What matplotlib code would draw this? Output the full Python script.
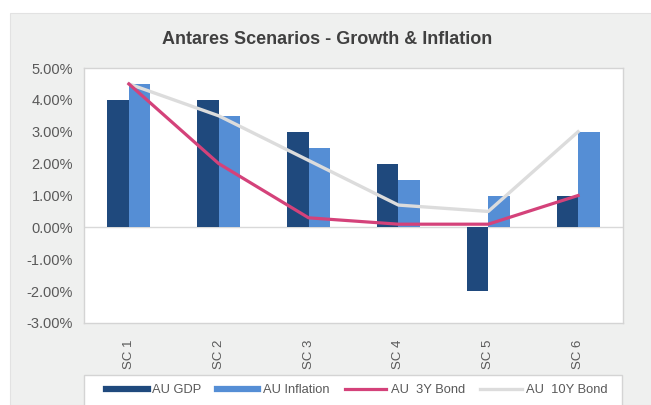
import matplotlib
matplotlib.use("Agg")
import matplotlib.pyplot as plt
import numpy as np
from matplotlib.patches import Rectangle
from matplotlib.lines import Line2D
from matplotlib.ticker import FuncFormatter

categories = ["SC 1", "SC 2", "SC 3", "SC 4", "SC 5", "SC 6"]
au_gdp = [4.0, 4.0, 3.0, 2.0, -2.0, 1.0]
au_inflation = [4.5, 3.5, 2.5, 1.5, 1.0, 3.0]
au_3y_bond = [4.5, 2.0, 0.3, 0.1, 0.1, 1.0]
au_10y_bond = [4.5, 3.5, 2.1, 0.7, 0.5, 3.0]
series_names = ["AU GDP", "AU Inflation", "AU  3Y Bond", "AU  10Y Bond"]
title = "Antares Scenarios - Growth & Inflation"

c_gdp = "#1f497d"
c_inf = "#558ed5"
c_3y = "#d4427a"
c_10y = "#dcdcdc"
c_bg = "#eff0ef"
c_txt = "#595959"
c_border = "#d4d4d4"

FONT = ["Liberation Sans", "DejaVu Sans"]
plt.rcParams["font.family"] = FONT

W, H = 651, 405
fig = plt.figure(figsize=(W / 100, H / 100), dpi=100, facecolor="white")

def px(x0, y0, x1, y1):
    return [x0 / W, 1 - y1 / H, (x1 - x0) / W, (y1 - y0) / H]

# outer grey chart area
fig.patches.append(Rectangle((10 / W, 0), 1, 1 - 13 / H, transform=fig.transFigure,
                             facecolor=c_bg, edgecolor="#e2e2e2", lw=0.8, zorder=-10))

ax = fig.add_axes(px(84, 68, 623, 323))
ax.set_zorder(1)
ax.set_facecolor("white")
x = np.arange(len(categories))
bw = 0.24
ax.bar(x - bw / 2, au_gdp, width=bw, color=c_gdp, zorder=3)
ax.bar(x + bw / 2, au_inflation, width=bw, color=c_inf, zorder=3)
ax.plot(x, au_10y_bond, color=c_10y, lw=2.4, zorder=4, solid_joinstyle="round")
ax.plot(x, au_3y_bond, color=c_3y, lw=2.3, zorder=5, solid_joinstyle="round")
ax.axhline(0, color="#d9d9d9", lw=1.0, zorder=2)

ax.set_xlim(-0.5, len(categories) - 0.5)
ax.set_ylim(-3, 5)
ax.set_yticks(np.arange(-3, 6, 1))
ax.yaxis.set_major_formatter(FuncFormatter(lambda v, p: f"{v:.2f}%"))
ax.set_xticks(x)
ax.set_xticklabels(categories, rotation=90)
ax.tick_params(axis="both", length=0, colors=c_txt)
ax.tick_params(axis="y", pad=8, labelsize=10.5)
ax.tick_params(axis="x", pad=12, labelsize=9.5)
for s in ax.spines.values():
    s.set_color(c_border)
    s.set_linewidth(1.0)

fig.text(327 / W, 1 - 40 / H, title, ha="center", va="center", fontsize=13,
         fontweight="bold", color="#404040")

# legend box
fig.patches.append(Rectangle((84 / W, -0.05), (622 - 84) / W, (1 - 375 / H) + 0.05,
                             transform=fig.transFigure, facecolor="white",
                             edgecolor=c_border, lw=1.0, zorder=-5))
handles = [Line2D([], [], color=c_gdp, lw=4.5),
           Line2D([], [], color=c_inf, lw=4.5),
           Line2D([], [], color=c_3y, lw=2.3),
           Line2D([], [], color=c_10y, lw=2.4)]
leg = fig.legend(handles, series_names, loc="center", bbox_to_anchor=(357 / W, 1 - 390 / H),
                 ncol=4, frameon=False, fontsize=9.3, handlelength=3.2, handletextpad=0.35,
                 columnspacing=1.2, labelcolor=c_txt)

fig.savefig("out.png", dpi=100, facecolor="white")
